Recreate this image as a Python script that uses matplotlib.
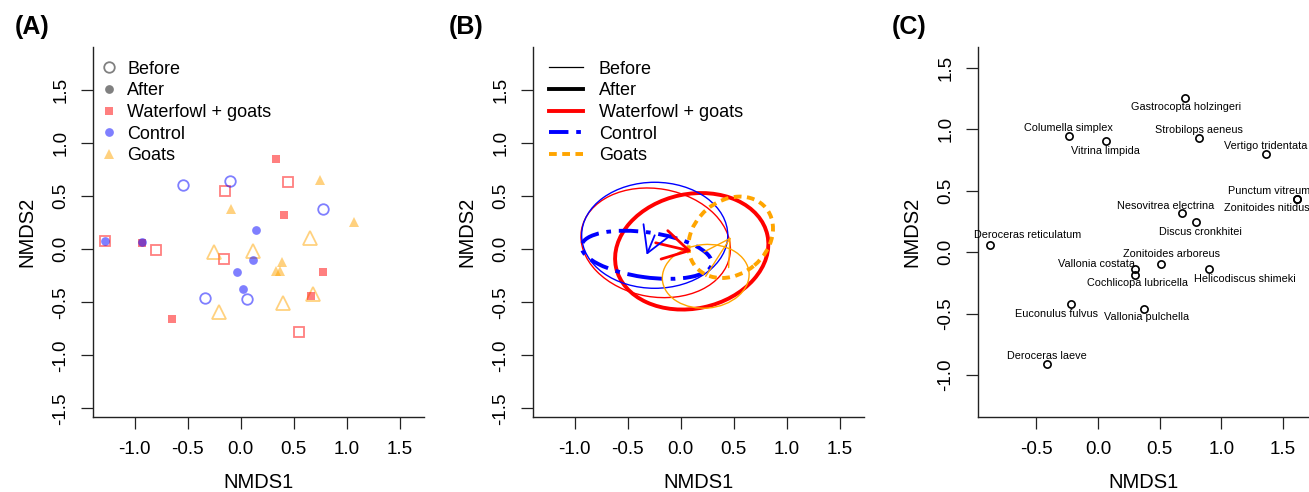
import matplotlib
matplotlib.use("Agg")
import matplotlib.pyplot as plt
from matplotlib.patches import Ellipse
from matplotlib.lines import Line2D

plt.rcParams['font.family'] = ['Liberation Sans', 'DejaVu Sans']
plt.rcParams['axes.unicode_minus'] = False

# panel A: NMDS site scores
ctrl_before_x = [-0.544, -0.097, 0.774, -0.336, 0.063]
ctrl_before_y = [0.610, 0.648, 0.380, -0.456, -0.469]
ctrl_after_x = [-1.277, -0.934, 0.145, 0.116, -0.031, 0.019]
ctrl_after_y = [0.082, 0.066, 0.186, -0.100, -0.217, -0.371]
wg_before_x = [-0.151, 0.450, -0.796, -0.160, 0.553, -1.277]
wg_before_y = [0.547, 0.635, -0.006, -0.091, -0.783, 0.082]
wg_after_x = [0.330, 0.412, 0.774, 0.660, -0.645, -0.934]
wg_after_y = [0.849, 0.327, -0.217, -0.437, -0.660, 0.060]
goat_before_x = [0.651, -0.252, 0.113, 0.399, -0.204, 0.679]
goat_before_y = [0.110, -0.025, -0.013, -0.509, -0.594, -0.421]
goat_after_x = [0.748, -0.091, 1.066, 0.387, 0.336, 0.371]
goat_after_y = [0.654, 0.384, 0.258, -0.116, -0.208, -0.208]

# panel B: group ellipses (order: waterfowl + goats, control, goats)
groups = ['Waterfowl + goats', 'Control', 'Goats']
ell_before_cx = [-0.236, -0.245, 0.236]
ell_before_cy = [0.061, 0.132, -0.255]
ell_before_a = [0.71, 0.689, 0.41]
ell_before_b = [0.51, 0.50, 0.30]
ell_before_ang = [-10, 0, 5]
ell_after_cx = [0.104, -0.321, 0.472]
ell_after_cy = [-0.019, -0.052, 0.113]
ell_after_a = [0.73, 0.62, 0.432]
ell_after_b = [0.54, 0.212, 0.346]
ell_after_ang = [12, -8, 40]

# panel C: species scores
species = ['Gastrocopta holzingeri', 'Columella simplex', 'Vitrina limpida',
           'Strobilops aeneus', 'Vertigo tridentata', 'Punctum vitreum',
           'Zonitoides nitidus', 'Nesovitrea electrina', 'Discus cronkhitei',
           'Deroceras reticulatum', 'Zonitoides arboreus', 'Vallonia costata',
           'Cochlicopa lubricella', 'Helicodiscus shimeki', 'Euconulus fulvus',
           'Vallonia pulchella', 'Deroceras laeve']
sp_x = [0.703, -0.235, 0.065, 0.820, 1.361, 1.615, 1.615, 0.679, 0.798,
        -0.871, 0.511, 0.300, 0.300, 0.898, -0.216, 0.376, -0.409]
sp_y = [1.250, 0.943, 0.905, 0.927, 0.796, 0.435, 0.435, 0.315, 0.245,
        0.054, -0.100, -0.141, -0.185, -0.136, -0.421, -0.462, -0.913]
lab_x = [0.717, -0.238, 0.062, 0.817, 1.358, 1.390, 1.370, 0.552, 0.828,
         -0.571, 0.598, -0.014, 0.319, 1.193, -0.333, 0.390, -0.414]
lab_y = [1.179, 1.005, 0.821, 0.992, 0.861, 0.495, 0.359, 0.375, 0.160,
         0.136, -0.019, -0.101, -0.255, -0.220, -0.500, -0.530, -0.842]

RED = '#FF0000'
BLUE = '#0000FF'
ORANGE = '#FFA500'
cols = [RED, BLUE, ORANGE]
ALPHA = 0.5

fig = plt.figure(figsize=(13.09, 4.92), dpi=100)
W, H = 1309, 492


def make_ax(left_px):
    ax = fig.add_axes([left_px / W, (H - 417) / H, 331 / W, 370 / H])
    ax.spines['top'].set_visible(False)
    ax.spines['right'].set_visible(False)
    for s in ['left', 'bottom']:
        ax.spines[s].set_linewidth(1.0)
        ax.spines[s].set_color('#222222')
    ax.tick_params(direction='out', length=8.6, width=0.9, labelsize=13.5,
                   pad=8.5, colors='#222222', labelcolor='black')
    ax.tick_params(axis='y', labelrotation=90)
    ax.set_xlabel('NMDS1', fontsize=14.5)
    ax.set_ylabel('NMDS2', fontsize=14.5)
    ax.xaxis.set_label_coords(0.5, -0.152)
    ax.yaxis.set_label_coords(-0.172, 0.5)
    return ax


# ---- panel A
axA = make_ax(93)
axA.set_xlim(-1.393, 1.729)
axA.set_ylim(-1.582, 1.908)
axA.plot(wg_before_x, wg_before_y, 's', ms=7.0, mfc='none', mec=RED, mew=1.3, alpha=ALPHA, ls='none')
axA.plot(ctrl_before_x, ctrl_before_y, 'o', ms=7.6, mfc='none', mec=BLUE, mew=1.3, alpha=ALPHA, ls='none')
axA.plot(goat_before_x, goat_before_y, '^', ms=9.6, mfc='none', mec=ORANGE, mew=1.3, alpha=ALPHA, ls='none')
axA.plot(wg_after_x, wg_after_y, 's', ms=6.0, color=RED, mew=0, alpha=ALPHA, ls='none')
axA.plot(ctrl_after_x, ctrl_after_y, 'o', ms=6.3, color=BLUE, mew=0, alpha=ALPHA, ls='none')
axA.plot(goat_after_x, goat_after_y, '^', ms=7.6, color=ORANGE, mew=0, alpha=ALPHA, ls='none')

hA = [Line2D([], [], marker='o', ls='none', ms=7.6, mfc='none', mec='#808080', mew=1.3),
      Line2D([], [], marker='o', ls='none', ms=6.3, color='#808080', mew=0),
      Line2D([], [], marker='s', ls='none', ms=6, color=RED, alpha=ALPHA, mew=0),
      Line2D([], [], marker='o', ls='none', ms=6.3, color=BLUE, alpha=ALPHA, mew=0),
      Line2D([], [], marker='^', ls='none', ms=7.6, color=ORANGE, alpha=ALPHA, mew=0)]
axA.legend(hA, ['Before', 'After'] + groups, loc='upper left',
           bbox_to_anchor=(0.0211, 0.9635), borderpad=0, borderaxespad=0,
           frameon=False, fontsize=13, handlelength=1.0, handletextpad=0.5,
           labelspacing=0.26)
fig.text(15 / W, 1 - 27 / H, '(A)', fontsize=18, fontweight='bold', va='center', ha='left')

# ---- panel B
axB = make_ax(533)
axB.set_xlim(-1.393, 1.729)
axB.set_ylim(-1.582, 1.908)
ctrl_dash = (0, (5, 2, 1.2, 2))
goat_dash = (0, (2, 1.4))
styles = ['-', ctrl_dash, goat_dash]
for i in range(3):
    axB.add_patch(Ellipse((ell_before_cx[i], ell_before_cy[i]), 2 * ell_before_a[i],
                          2 * ell_before_b[i], angle=ell_before_ang[i], fill=False,
                          ec=cols[i], lw=1.0))
    axB.add_patch(Ellipse((ell_after_cx[i], ell_after_cy[i]), 2 * ell_after_a[i],
                          2 * ell_after_b[i], angle=ell_after_ang[i], fill=False,
                          ec=cols[i], lw=2.8, ls=styles[i]))
arrow_lw = [2.0, 1.3, 1.0]
for i in range(3):
    axB.annotate('', xy=(ell_after_cx[i], ell_after_cy[i]),
                 xytext=(ell_before_cx[i], ell_before_cy[i]),
                 arrowprops=dict(arrowstyle='->,head_length=0.866,head_width=0.5',
                                 mutation_scale=21, color=cols[i], lw=arrow_lw[i],
                                 shrinkA=0, shrinkB=0))

hB = [Line2D([], [], color='black', lw=0.9),
      Line2D([], [], color='black', lw=2.8),
      Line2D([], [], color=RED, lw=2.8),
      Line2D([], [], color=BLUE, lw=2.8, ls=ctrl_dash),
      Line2D([], [], color=ORANGE, lw=2.8, ls=goat_dash)]
axB.legend(hB, ['Before', 'After'] + groups, loc='upper left',
           bbox_to_anchor=(0.0483, 0.9635), borderpad=0, borderaxespad=0,
           frameon=False, fontsize=13, handlelength=1.88, handletextpad=0.886,
           labelspacing=0.26)
fig.text(449 / W, 1 - 27 / H, '(B)', fontsize=18, fontweight='bold', va='center', ha='left')

# ---- panel C
axC = make_ax(978)
axC.set_xlim(-0.972, 1.710)
axC.set_ylim(-1.341, 1.667)
axC.set_xticks([-0.5, 0.0, 0.5, 1.0, 1.5])
axC.set_yticks([-1.0, -0.5, 0.0, 0.5, 1.0, 1.5])
axC.plot(sp_x, sp_y, 'o', ms=5.2, mfc='none', mec='black', mew=1.2, ls='none', clip_on=False)
for name, x, y in zip(species, lab_x, lab_y):
    axC.text(x, y, name, fontsize=7.8, ha='center', va='center')
fig.text(892 / W, 1 - 27 / H, '(C)', fontsize=18, fontweight='bold', va='center', ha='left')

for ax in (axA, axB):
    ax.set_xticks([-1.0, -0.5, 0.0, 0.5, 1.0, 1.5])
    ax.set_yticks([-1.5, -1.0, -0.5, 0.0, 0.5, 1.0, 1.5])
for ax in (axA, axB, axC):
    for t in ax.get_yticklabels():
        t.set_va('center')

fig.savefig('out.png', dpi=100)
